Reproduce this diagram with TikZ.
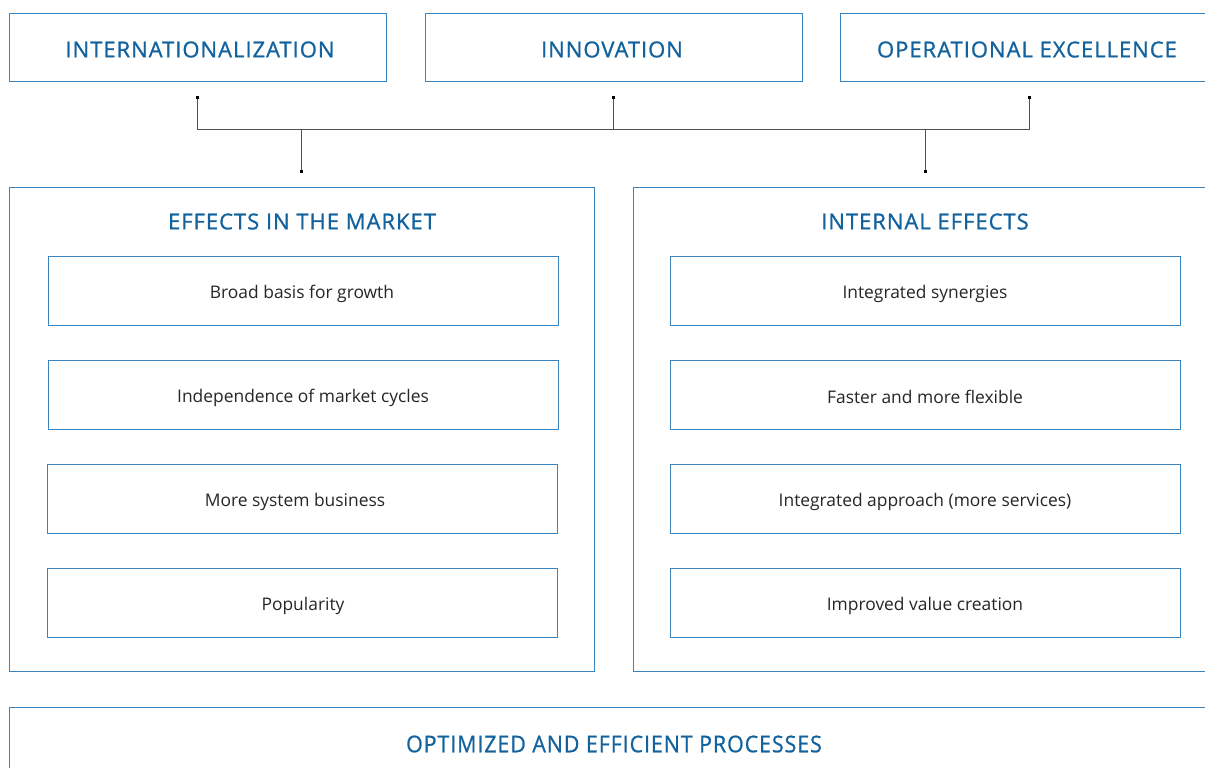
\documentclass[tikz,border=0pt]{standalone}
\usepackage{fontspec}
\setmainfont{Open Sans}
\newfontfamily\semib[FakeBold=0.9,LetterSpace=4.5]{Open Sans}
\usetikzlibrary{calc}
\definecolor{txtblue}{RGB}{18,98,158}
\definecolor{boxblue}{RGB}{58,132,192}
\definecolor{conn}{RGB}{80,80,80}
\begin{document}
\begin{tikzpicture}[x=1pt,y=-1pt,
  topbox/.style={draw=boxblue,line width=1pt,minimum width=377pt,minimum height=68pt,inner sep=0pt},
  bigbox/.style={draw=boxblue,line width=1pt,minimum height=484pt,inner sep=0pt},
  title/.style={text=txtblue,font=\semib\fontsize{22}{26}\selectfont,inner sep=0pt},
  itembox/.style={draw=boxblue,line width=1pt,minimum width=510pt,minimum height=69pt,inner sep=0pt},
  itemtext/.style={text=black!85,font=\fontsize{17.4}{20}\selectfont,inner sep=0pt},
  conn/.style={draw=conn,line width=1pt},
  dotend/.style={fill=black,rectangle,minimum size=3pt,inner sep=0pt}]
\useasboundingbox (0,0) rectangle (1205,768);
\clip (0,0) rectangle (1205,768);
\fill[white] (0,0) rectangle (1205,768);
% top boxes
\node[topbox] (t1) at (197.5,48) {};
\node[topbox] (t2) at (613.5,48) {};
\node[topbox] (t3) at (1029,48) {};
\node[title] (t1t) at (200,49.5) {INTERNATIONALIZATION};
\node[title] (t2t) at (612,49.5) {INNOVATION};
\node[title] (t3t) at (1027,49.5) {OPERATIONAL EXCELLENCE};
% big boxes
\node[bigbox,minimum width=585pt] (L) at (301.5,429) {};
\node[bigbox,minimum width=584pt] (R) at (925,429) {};
\node[title] (Lt) at (302,221.5) {EFFECTS IN THE MARKET};
\node[title] (Rt) at (925,221.5) {INTERNAL EFFECTS};
% items left
\node[itembox] (l1) at (303,290.5) {};
\node[itembox] (l2) at (303,394.5) {};
\node[itembox] (l3) at (302,498.5) {};
\node[itembox] (l4) at (302,602.5) {};
\node[itemtext] at ($(l1)+(-1,3)$) {Broad basis for growth};
\node[itemtext] at ($(l2)+(0,3)$) {Independence of market cycles};
\node[itemtext] at ($(l3)+(-7,3)$) {More system business};
\node[itemtext] at ($(l4)+(1,3)$) {Popularity};
% items right
\node[itembox] (r1) at (925,290.5) {};
\node[itembox] (r2) at (925,394.5) {};
\node[itembox] (r3) at (925,498.5) {};
\node[itembox] (r4) at (925,602.5) {};
\node[itemtext] at ($(r1)+(0,3)$) {Integrated synergies};
\node[itemtext] at ($(r2)+(0,2)$) {Faster and more flexible};
\node[itemtext] at ($(r3)+(0,3)$) {Integrated approach (more services)};
\node[itemtext] at ($(r4)+(0,3)$) {Improved value creation};
% bottom
\node[draw=boxblue,line width=1pt,minimum width=1210pt,minimum height=90pt,inner sep=0pt] (B) at (614,752) {};
\node[title,xscale=0.97,yscale=1.05] (Bt) at (614,744) {OPTIMIZED AND EFFICIENT PROCESSES};
% connectors
\coordinate (a1) at ($(t1.south)+(0,15)$);
\coordinate (a2) at ($(t2.south)+(0,15)$);
\coordinate (a3) at ($(t3.south)+(0,15)$);
\coordinate (b1) at ($(L.north)+(0,-15)$);
\coordinate (b2) at ($(R.north)+(0,-15)$);
\coordinate (h) at (0,129);
\draw[conn] (a1) -- (a1|-h) -- (a3|-h) -- (a3);
\draw[conn] (a2) -- (a2|-h);
\draw[conn] (b1|-h) -- (b1);
\draw[conn] (b2|-h) -- (b2);
\foreach \p in {a1,a2,a3,b1,b2} \node[dotend] at (\p) {};
\end{tikzpicture}
\end{document}
